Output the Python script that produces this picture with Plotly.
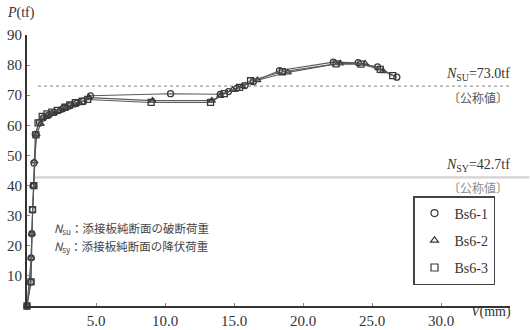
import plotly.graph_objects as go

# Load–displacement records for the three spliced-plate specimens
series_names = ["Bs6-1", "Bs6-2", "Bs6-3"]
symbols = ["circle-open", "triangle-up-open", "square-open"]

v_bs1 = [0.0, 0.25, 0.3, 0.35, 0.4, 0.45, 0.5, 0.6, 0.9, 1.2, 1.6, 2.0, 2.6, 3.1, 3.6, 4.1, 4.6,
         10.4, 14.0, 14.6, 15.2, 15.8, 16.4, 18.3, 22.2, 24.0, 25.4, 26.8]
p_bs1 = [0.0, 8.0, 16.0, 24.0, 32.0, 40.0, 47.5, 57.0, 61.0, 62.5, 63.5, 64.3, 65.5, 66.5, 67.3, 68.0, 69.8,
         70.5, 70.3, 71.2, 72.3, 73.2, 74.5, 78.2, 81.0, 80.8, 79.4, 76.0]

v_bs2 = [0.0, 0.3, 0.35, 0.45, 0.55, 0.7, 1.0, 1.4, 1.8, 2.3, 2.8, 3.3, 3.8, 4.5,
         9.1, 13.4, 14.0, 14.9, 15.6, 16.7, 18.9, 22.7, 24.5, 25.8]
p_bs2 = [0.0, 16.0, 24.0, 40.0, 48.0, 57.0, 60.5, 62.8, 63.8, 64.8, 65.8, 66.6, 67.4, 69.2,
         68.2, 68.2, 69.8, 71.8, 73.0, 75.0, 77.6, 80.6, 80.5, 78.0]

v_bs3 = [0.0, 0.3, 0.4, 0.5, 0.65, 0.8, 1.1, 1.45, 1.8, 2.2, 2.75, 3.1, 3.5, 4.0, 4.4,
         9.0, 13.3, 14.3, 15.4, 16.2, 18.5, 22.4, 24.2, 25.6, 26.5]
p_bs3 = [0.0, 8.0, 32.0, 40.0, 56.8, 60.8, 63.0, 63.8, 64.4, 65.0, 66.0, 66.8, 67.5, 68.0, 68.6,
         67.6, 67.6, 70.5, 72.6, 74.8, 77.8, 80.4, 80.3, 78.6, 76.5]

v_values = [v_bs1, v_bs2, v_bs3]
p_values = [p_bs1, p_bs2, p_bs3]

# Nominal reference loads
n_su = 73.0
n_sy = 42.7

x_ticks = [5, 10, 15, 20, 25, 30]
x_tick_labels = ["5.0", "10.0", "15.0", "20.0", "25.0", "30.0"]
y_ticks = [10, 20, 30, 40, 50, 60, 70, 80, 90]

SERIF = "Liberation Serif, DejaVu Serif, serif"
CJK = "Noto Sans CJK JP"
INK = "#333333"

W, H = 530, 330
ML, MR, MT, MB = 27, 20, 35, 24
pw, ph = W - ML - MR, H - MT - MB

fig = go.Figure()

for name, sym, vv, pp in zip(series_names, symbols, v_values, p_values):
    fig.add_trace(go.Scatter(
        x=vv, y=pp, name=name, showlegend=False, mode="lines+markers",
        line=dict(color="#5a5a5a", width=1.1),
        marker=dict(symbol=sym, size=6, color="#3a3a3a", line=dict(width=1.3)),
        cliponaxis=False,
    ))

# Symbol-only legend keys
for name, sym in zip(series_names, symbols):
    fig.add_trace(go.Scatter(
        x=[None], y=[None], name=name, legendgroup=name, mode="markers",
        marker=dict(symbol=sym, size=7, color="#3a3a3a", line=dict(width=1.2)),
    ))

# Nominal ultimate (dotted) and yield (light solid) load lines
fig.add_shape(type="line", xref="x", yref="y", x0=0.8, x1=35, y0=n_su, y1=n_su,
              line=dict(color="#9a9a9a", width=1.2, dash="dot"), layer="below")
fig.add_shape(type="line", xref="paper", yref="y", x0=0.015, x1=1.04, y0=n_sy, y1=n_sy,
              line=dict(color="#d2d2d2", width=2.2), layer="below")

ann = [
    dict(x=32.7, y=77.0, xref="x", yref="y", showarrow=False,
         text=f"<i>N</i><sub>SU</sub>={n_su:.1f}tf",
         font=dict(family=SERIF, size=14, color=INK)),
    dict(x=32.7, y=69.4, xref="x", yref="y", showarrow=False,
         text="〔公称値〕", font=dict(family=CJK, size=12, color="#555555")),
    dict(x=32.7, y=46.5, xref="x", yref="y", showarrow=False,
         text=f"<i>N</i><sub>SY</sub>={n_sy:.1f}tf",
         font=dict(family=SERIF, size=14, color=INK)),
    dict(x=32.7, y=39.2, xref="x", yref="y", showarrow=False,
         text="〔公称値〕", font=dict(family=CJK, size=12, color="#8a8a8a")),
    dict(x=1.8, y=25.9, xref="x", yref="y", xanchor="left", showarrow=False,
         text="<i>N</i><sub>su</sub>：添接板純断面の破断荷重",
         font=dict(family=CJK, size=11.5, color="#444444")),
    dict(x=1.8, y=19.9, xref="x", yref="y", xanchor="left", showarrow=False,
         text="<i>N</i><sub>sy</sub>：添接板純断面の降伏荷重",
         font=dict(family=CJK, size=11.5, color="#444444")),
    # axis captions and origin label
    dict(x=(5 - ML) / pw, y=(H - MB - 13) / ph, xref="paper", yref="paper",
         xanchor="left", yanchor="middle", showarrow=False,
         text="<i>P</i>(tf)", font=dict(family=SERIF, size=14, color=INK)),
    dict(x=33.6, y=0, xref="x", yref="paper", yshift=-16, showarrow=False,
         text="<i>V</i>(mm)", font=dict(family=SERIF, size=14, color=INK)),
    dict(x=-0.5, y=0, xref="x", yref="paper", yshift=-16, showarrow=False,
         text="0", font=dict(family=SERIF, size=15, color=INK)),
]

fig.update_layout(
    width=W, height=H,
    margin=dict(l=ML, r=MR, t=MT, b=MB, autoexpand=False),
    paper_bgcolor="white", plot_bgcolor="white",
    showlegend=True,
    legend=dict(x=(413 - ML) / pw, y=(H - MB - 196) / ph, xanchor="left", yanchor="top",
                bordercolor="#444444", borderwidth=1.5, bgcolor="white",
                font=dict(family=SERIF, size=14, color=INK),
                tracegroupgap=6, itemwidth=30),
    annotations=ann,
    xaxis=dict(range=[0, 35], tickvals=x_ticks, ticktext=x_tick_labels, automargin=False,
               showgrid=False, zeroline=False, showline=True, linecolor="#333333", linewidth=2,
               ticks="inside", ticklen=3, tickcolor="#888888",
               tickfont=dict(family=SERIF, size=15, color=INK)),
    yaxis=dict(range=[0, 90], tickvals=y_ticks, automargin=False,
               showgrid=False, zeroline=False, showline=True, linecolor="#333333", linewidth=2,
               ticks="inside", ticklen=3, tickcolor="#888888",
               tickfont=dict(family=SERIF, size=15, color=INK)),
)

fig.write_html("out.html")
